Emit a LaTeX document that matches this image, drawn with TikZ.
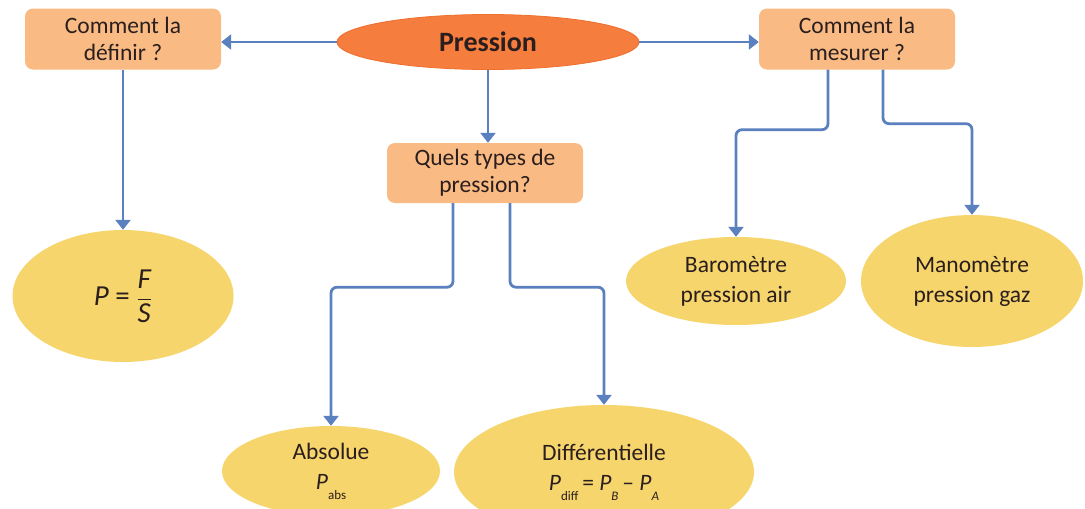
\documentclass[tikz,border=0pt]{standalone}
\usepackage{fontspec}
\setmainfont{Carlito}
\usetikzlibrary{shapes.geometric,arrows.meta,calc}

\definecolor{boxfill}{HTML}{F9BB83}
\definecolor{rootfill}{HTML}{F57D3D}
\definecolor{rootedge}{HTML}{EE6F2E}
\definecolor{leaffill}{HTML}{F6D56C}
\definecolor{linkblue}{HTML}{5B80BF}
\definecolor{ink}{HTML}{2A1E1E}

% small upright subscript, lowered under the baseline
\newcommand\lowsub[1]{\raisebox{-0.42em}{\fontsize{13}{13}\selectfont #1}}

\tikzset{
  question/.style={rectangle, rounded corners=8pt, fill=boxfill, text=ink,
    minimum width=196pt, minimum height=61pt, inner sep=2pt, align=center,
    font=\fontsize{23.5}{27}\selectfont},
  root/.style={ellipse, fill=rootfill, draw=rootedge, line width=0.8pt, text=ink,
    minimum width=302pt, minimum height=55pt, inner sep=0pt,
    font=\fontsize{28}{30}\selectfont\bfseries},
  leaf/.style={ellipse, fill=leaffill, text=ink, inner sep=0pt, align=center,
    font=\fontsize{23.5}{30}\selectfont},
  link/.style={draw=linkblue, line width=2.8pt, rounded corners=6pt,
    -{Triangle[width=15pt,length=10pt]}},
}

\begin{document}
\begin{tikzpicture}[x=1pt, y=-1pt]
  \useasboundingbox (0,0) rectangle (1085,509);
  \clip (0,0) rectangle (1085,509);
  \fill[white] (0,0) rectangle (1085,509);

  % top row
  \node[root] (pres) at (488,42) {Pression};
  \node[question] (def) at (123,39) {Comment la\\définir ?};
  \node[question] (mes) at (857,39) {Comment la\\mesurer ?};
  \node[question, minimum height=60pt] (quel) at (485,173) {Quels types de\\pression?};

  % answers
  \node[leaf, minimum width=221pt, minimum height=132pt,
        font=\fontsize{29}{32}\selectfont] (pfs) at (123,296)
    {\textit{P} = $\displaystyle\frac{\textit{F}}{\textit{S}}$};
  \node[leaf, minimum width=220pt, minimum height=88pt] (baro) at (736,281)
    {Baromètre\\pression air};
  \node[leaf, minimum width=222pt, minimum height=132pt] (mano) at (972,281)
    {Manomètre\\pression gaz};
  \node[leaf, minimum width=218pt, minimum height=90pt] (abs) at (331,471)
    {Absolue\\\textit{P}\lowsub{abs}};
  \node[leaf, minimum width=300pt, minimum height=134pt] (diff) at (604,472)
    {Différentielle\\\textit{P}\lowsub{diff}\,= \textit{P}\lowsub{\itshape B}\,\textendash\ \textit{P}\lowsub{\itshape A}};

  % connectors
  \draw[link] (pres.west) -- (pres.west -| def.east);
  \draw[link] (pres.east) -- (pres.east -| mes.west);
  \draw[link] (pres.south) -- (pres.south |- quel.north);
  \draw[link] (def.south) -- (pfs.north);
  \draw[link] ($(mes.south)+(-29,0)$) -- ++(0,60) -| (baro.north);
  \draw[link] ($(mes.south)+(26,0)$) -- ++(0,54) -| (mano.north);
  \draw[link] ($(quel.south)+(-32,0)$) -- ++(0,84) -| (abs.north);
  \draw[link] ($(quel.south)+(25,0)$) -- ++(0,84) -| (diff.north);
\end{tikzpicture}
\end{document}
